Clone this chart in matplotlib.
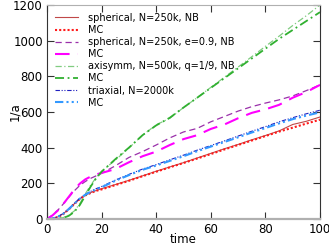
import matplotlib
matplotlib.use("Agg")
import matplotlib.pyplot as plt

# time samples (shared by all curves)
t = [0, 2, 4, 6, 8, 10, 12, 14, 16, 18, 20, 25, 30, 35, 40, 45, 50,
     55, 60, 65, 70, 75, 80, 85, 90, 95, 100]

# spherical, N=250k
sph_nb = [0, 3, 12, 30, 55, 85, 112, 133, 148, 160, 170, 193, 217, 242, 268, 292, 316,
          342, 368, 394, 418, 444, 468, 494, 530, 548, 572]
sph_mc = [0, 2, 10, 28, 54, 84, 112, 132, 146, 158, 166, 190, 214, 240, 265, 290, 314,
          339, 364, 390, 415, 440, 465, 490, 512, 535, 557]

# spherical, e=0.9
ecc_nb = [0, 22, 50, 85, 122, 158, 188, 210, 228, 242, 256, 298, 345, 378, 415, 455, 488,
          508, 545, 575, 605, 630, 650, 668, 690, 720, 752]
ecc_mc = [0, 20, 48, 85, 125, 165, 198, 222, 238, 250, 258, 280, 318, 352, 378, 415, 448,
          470, 505, 530, 565, 595, 615, 640, 680, 712, 752]

# axisymmetric, q=1/9
axi_nb = [0, 0, 2, 8, 22, 45, 85, 140, 190, 232, 268, 330, 398, 470, 528, 565, 625,
          680, 738, 795, 852, 910, 968, 1025, 1085, 1140, 1200]
axi_mc = [0, 0, 1, 6, 18, 40, 78, 130, 182, 228, 265, 335, 400, 470, 525, 568, 625,
          680, 735, 790, 845, 900, 955, 1010, 1060, 1110, 1160]

# triaxial, N=2000k
tri_nb = [0, 3, 13, 32, 58, 88, 116, 138, 155, 170, 182, 218, 250, 280, 305, 332, 358,
          386, 412, 438, 465, 492, 518, 545, 568, 590, 610]
tri_mc = [0, 2, 12, 30, 56, 86, 114, 136, 152, 166, 178, 214, 246, 276, 300, 326, 352,
          380, 406, 432, 458, 485, 510, 536, 560, 580, 598]

fig = plt.figure(figsize=(3.29, 2.5), dpi=100)
ax = fig.add_axes([47 / 329, 31 / 250, 273 / 329, 214 / 250])

ax.plot(t, sph_nb, color="#c04848", lw=0.8, ls="-", label="spherical, N=250k, NB")
ax.plot(t, sph_mc, color="#ff1a1a", lw=1.5, ls=(0, (1, 1)), label="MC")
ax.plot(t, ecc_nb, color="#9a30aa", lw=0.9, ls=(0, (5, 3)), label="spherical, N=250k, e=0.9, NB")
ax.plot(t, ecc_mc, color="#ff00ff", lw=1.5, ls=(0, (7, 4)), label="MC")
ax.plot(t, axi_nb, color="#80cc80", lw=0.9, ls=(0, (5, 2, 1, 2)), label="axisymm, N=500k, q=1/9, NB")
ax.plot(t, axi_mc, color="#30b030", lw=1.3, ls=(0, (5, 2, 1, 2)), label="MC")
ax.plot(t, tri_nb, color="#2020c0", lw=0.8, ls=(0, (4, 1.5, 1, 1.5, 1, 1.5)), label="triaxial, N=2000k")
ax.plot(t, tri_mc, color="#3399ff", lw=1.5, ls=(0, (4, 1.5, 1, 1.5, 1, 1.5)), label="MC")

ax.set_xlim(0, 100)
ax.set_ylim(0, 1200)
ax.set_xticks([0, 20, 40, 60, 80, 100])
ax.set_yticks([0, 200, 400, 600, 800, 1000, 1200])
ax.tick_params(direction="in", length=5, width=0.8, top=True, right=True,
               labelsize=8.5, color="#333333", pad=3)

ax.spines["top"].set_color("#b0b0b0")
ax.spines["bottom"].set_color("#b0b0b0")
ax.spines["bottom"].set_linewidth(1.6)
ax.spines["left"].set_color("#333333")
ax.spines["right"].set_color("#333333")

ax.set_xlabel("time", fontsize=8.5)
ax.set_ylabel("1/a", fontsize=8.5)
ax.xaxis.set_label_coords(0.5, -0.098, transform=ax.transAxes)
ax.yaxis.set_label_coords(-0.117, 0.5, transform=ax.transAxes)
ax.xaxis.label.set_va("center")
ax.yaxis.label.set_va("center")

ax.legend(loc="upper left", frameon=False, fontsize=7, handlelength=2.4,
          handletextpad=1.0, labelspacing=0.22, borderaxespad=0.3, borderpad=0.5)

fig.savefig("out.png", dpi=100)
